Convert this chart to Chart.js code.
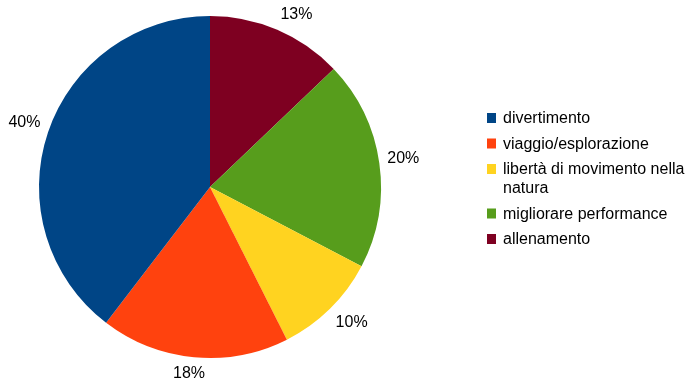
<!DOCTYPE html>
<html>
<head>
<meta charset="utf-8">
<script src="https://cdn.jsdelivr.net/npm/chart.js@4/dist/chart.umd.min.js"></script>
<style>
  html, body { margin: 0; padding: 0; background: #fff; }
  #chart { display: block; }
</style>
</head>
<body>
<canvas id="chart" width="689" height="382"></canvas>
<script>
// categorie e valori (in ordine di legenda)
const categories = [
    'divertimento',
    'viaggio/esplorazione',
    'libertà di movimento nella natura',
    'migliorare performance',
    'allenamento'
];
const percentages = [40, 18, 10, 20, 13];
const sliceColors = ['#004586', '#ff420e', '#ffd320', '#579d1c', '#7e0021'];

const FONT = '16px "Liberation Sans", Arial, sans-serif';

// le fette sono disegnate in senso orario a partire da "allenamento"
const drawLabels = categories.slice().reverse();
const drawValues = percentages.slice().reverse();
const drawColors = sliceColors.slice().reverse();

const clamp = (v, lo, hi) => Math.max(lo, Math.min(hi, v));

// etichette percentuali fuori dalla torta: il riquadro del testo
// viene appoggiato al punto d'ancoraggio dalla parte esterna
const outsideLabels = {
    id: 'outsideLabels',
    afterDatasetsDraw(chart) {
        const ctx = chart.ctx;
        const meta = chart.getDatasetMeta(0);
        ctx.save();
        ctx.font = FONT;
        ctx.fillStyle = '#000';
        ctx.textAlign = 'center';
        ctx.textBaseline = 'middle';
        meta.data.forEach((arc, i) => {
            const txt = drawValues[i] + '%';
            const mid = (arc.startAngle + arc.endAngle) / 2;
            const r = arc.outerRadius + 8;
            const ax = arc.x + Math.cos(mid) * r;
            const ay = arc.y + Math.sin(mid) * r;
            const halfW = ctx.measureText(txt).width / 2;
            const halfH = 8;
            const sx = clamp(Math.cos(mid) / 0.35, -1, 1);
            const sy = clamp(Math.sin(mid) / 0.35, -1, 1);
            ctx.fillText(txt, ax + sx * halfW, ay + sy * halfH);
        });
        ctx.restore();
    }
};

// legenda a destra con testo a capo
const sideLegend = {
    id: 'sideLegend',
    afterDraw(chart) {
        const ctx = chart.ctx;
        const boxX = 487, textX = 503;
        const maxWidth = chart.width - textX;
        const lineH = 19, gap = 6.5;
        let y = 119;
        ctx.save();
        ctx.font = FONT;
        ctx.textBaseline = 'middle';
        ctx.textAlign = 'left';
        categories.forEach((label, i) => {
            // spezza il testo in righe
            const words = label.split(' ');
            const lines = [];
            let line = '';
            words.forEach(w => {
                const test = line ? line + ' ' + w : w;
                if (line && ctx.measureText(test).width > maxWidth) {
                    lines.push(line);
                    line = w;
                } else {
                    line = test;
                }
            });
            lines.push(line);

            ctx.fillStyle = sliceColors[i];
            ctx.fillRect(boxX, y - 6, 9, 10);
            ctx.fillStyle = '#000';
            lines.forEach((l, k) => ctx.fillText(l, textX, y + k * lineH));
            y += lines.length * lineH + gap;
        });
        ctx.restore();
    }
};

new Chart(document.getElementById('chart'), {
    type: 'pie',
    data: {
        labels: drawLabels,
        datasets: [{
            data: drawValues,
            backgroundColor: drawColors,
            borderWidth: 0,
            hoverOffset: 0
        }]
    },
    options: {
        responsive: false,
        animation: false,
        layout: {
            padding: { left: 39, right: 308, top: 16, bottom: 24 }
        },
        plugins: {
            legend: { display: false },
            tooltip: { enabled: false }
        }
    },
    plugins: [outsideLabels, sideLegend]
});
</script>
</body>
</html>
